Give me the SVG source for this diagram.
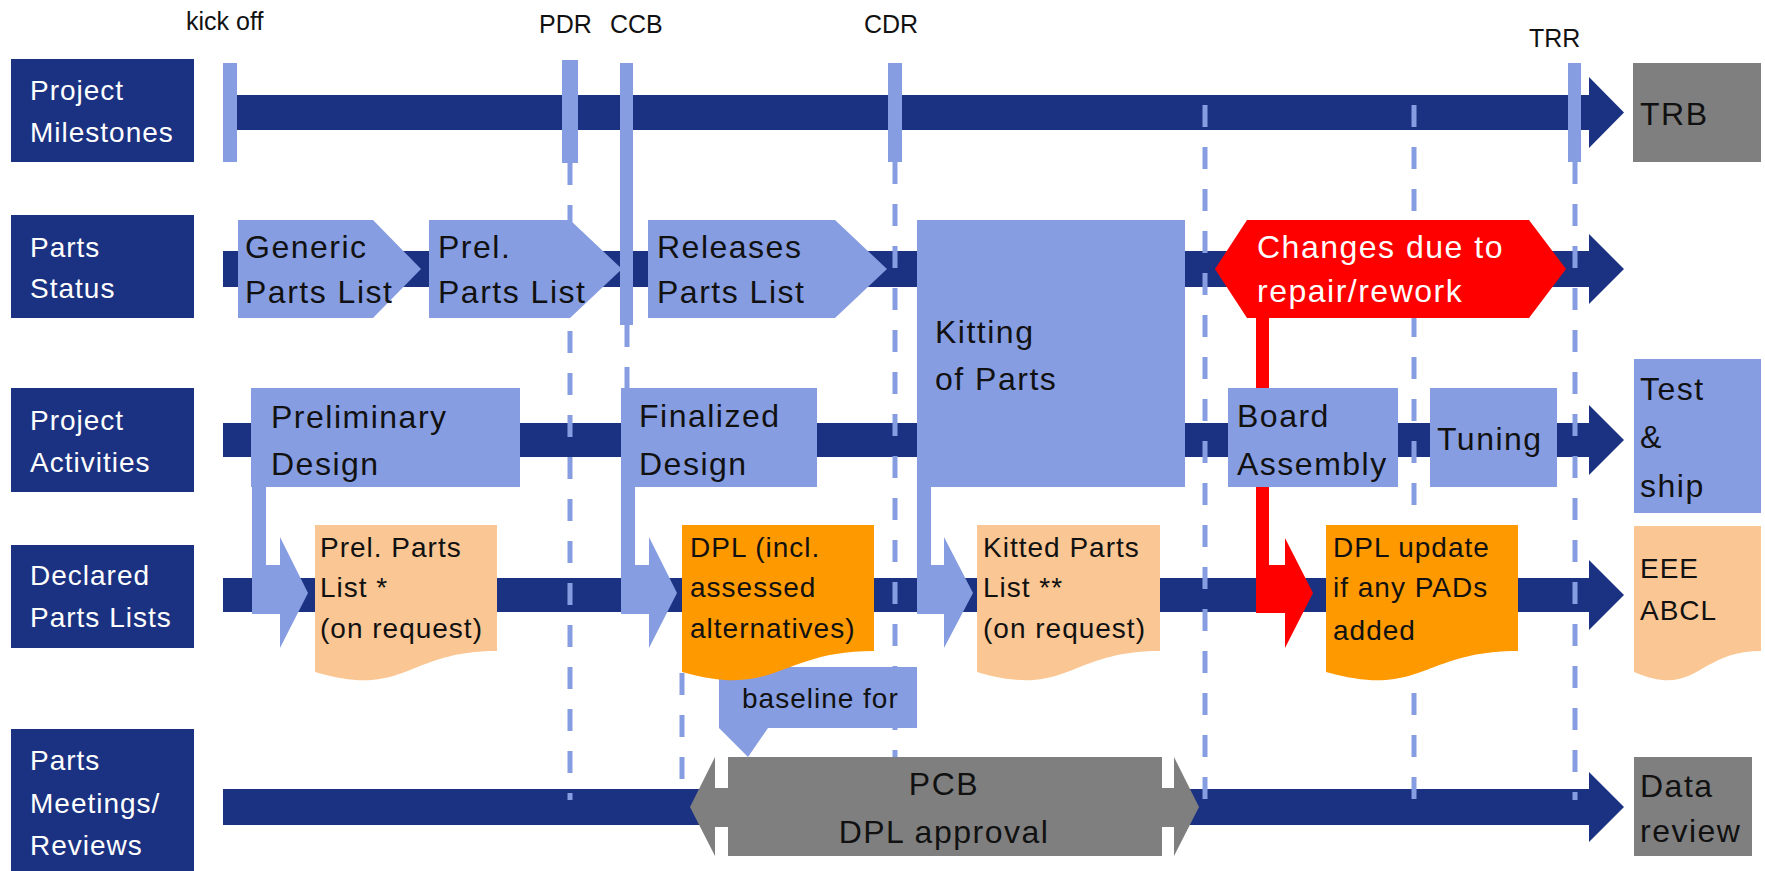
<svg xmlns="http://www.w3.org/2000/svg" width="1765" height="871" viewBox="0 0 1765 871">
<defs>
<style>
.lbl{fill:#1b3282}
.lt{font-family:"Liberation Sans",Arial,sans-serif;font-size:28px;fill:#ffffff;letter-spacing:1px}
.ms{font-family:"Liberation Sans",Arial,sans-serif;font-size:25px;fill:#111111}
.bar{fill:#1b3282}
.lb{fill:#879de1}
.t{font-family:"Liberation Sans",Arial,sans-serif;font-size:32px;fill:#111111;letter-spacing:1.5px}
.td{font-family:"Liberation Sans",Arial,sans-serif;font-size:28px;fill:#111111;letter-spacing:1px}
.tw{font-family:"Liberation Sans",Arial,sans-serif;font-size:32px;fill:#ffffff;letter-spacing:1.5px}
.dash{stroke:#879de1;stroke-width:5;stroke-dasharray:22 20;fill:none}
.gray{fill:#7f7f7f}
.peach{fill:#fac794}
.orange{fill:#ff9900}
.red{fill:#ff0000}
</style>
</defs>
<rect width="1765" height="871" fill="#ffffff"/>

<!-- row labels -->
<g id="label-milestones"><rect class="lbl" x="11" y="59" width="183" height="103"/><text class="lt" x="30" y="100">Project</text><text class="lt" x="30" y="142">Milestones</text></g>
<g id="label-status"><rect class="lbl" x="11" y="215" width="183" height="103"/><text class="lt" x="30" y="257">Parts</text><text class="lt" x="30" y="298">Status</text></g>
<g id="label-activities"><rect class="lbl" x="11" y="388" width="183" height="104"/><text class="lt" x="30" y="430">Project</text><text class="lt" x="30" y="472">Activities</text></g>
<g id="label-declared"><rect class="lbl" x="11" y="545" width="183" height="103"/><text class="lt" x="30" y="585">Declared</text><text class="lt" x="30" y="627">Parts Lists</text></g>
<g id="label-meetings"><rect class="lbl" x="11" y="729" width="183" height="142"/><text class="lt" x="30" y="770">Parts</text><text class="lt" x="30" y="813">Meetings/</text><text class="lt" x="30" y="855">Reviews</text></g>

<!-- milestone labels -->
<g id="milestone-labels">
<text class="ms" x="186" y="30">kick off</text>
<text class="ms" x="539" y="33">PDR</text>
<text class="ms" x="610" y="33">CCB</text>
<text class="ms" x="864" y="33">CDR</text>
<text class="ms" x="1529" y="47">TRR</text>
</g>

<g id="connectors">
<!-- timeline bars -->
<path class="bar" d="M223,95 H1589 V77 L1624,112.5 L1589,148 V130 H223 Z"/>
<path class="bar" d="M223,251 H1589 V234 L1624,269 L1589,304 V287 H223 Z"/>
<path class="bar" d="M223,423 H1589 V405 L1624,440 L1589,475 V457 H223 Z"/>
<path class="bar" d="M223,578 H1589 V560 L1624,595 L1589,630 V612 H223 Z"/>
<path class="bar" d="M223,789 H1589 V772 L1624,807 L1589,842 V825 H223 Z"/>
<!-- dashed milestone lines -->
<line class="dash" x1="570" y1="163" x2="570" y2="800"/>
<line class="dash" x1="627" y1="325" x2="627" y2="388"/>
<line class="dash" x1="895" y1="162" x2="895" y2="757"/>
<line class="dash" x1="682" y1="673" x2="682" y2="780"/>
<line class="dash" x1="1205" y1="105" x2="1205" y2="800"/>
<line class="dash" x1="1414" y1="105" x2="1414" y2="800"/>
<line class="dash" x1="1575" y1="162" x2="1575" y2="800"/>
<!-- bent arrows -->
<path class="lb" d="M252,487 H266 V565 H280 V537 L308,593 L280,648 V614 H252 Z"/>
<path class="lb" d="M621,487 H635 V565 H649 V537 L677,593 L649,648 V614 H621 Z"/>
<path class="lb" d="M917,487 H931 V565 H944 V537 L973,593 L944,648 V614 H917 Z"/>
<path class="red" d="M1256,318 H1269 V565 H1285 V538 L1313,593 L1285,648 V613 H1256 Z"/>
</g>

<!-- milestone markers -->
<g id="markers">
<rect class="lb" x="223" y="63" width="14" height="99"/>
<rect class="lb" x="562" y="60" width="16" height="103"/>
<rect class="lb" x="620" y="63" width="13" height="262"/>
<rect class="lb" x="888" y="63" width="14" height="99"/>
<rect class="lb" x="1568" y="63" width="13" height="99"/>
</g>

<g id="trb"><rect class="gray" x="1633" y="63" width="128" height="99"/><text class="t" x="1640" y="125">TRB</text></g>

<!-- parts status -->
<g id="generic"><polygon class="lb" points="238,220 373,220 421,269 373,318 238,318"/><text class="t" x="245" y="258">Generic</text><text class="t" x="245" y="303">Parts List</text></g>
<g id="prel"><polygon class="lb" points="429,220 570,220 622,269 570,318 429,318"/><text class="t" x="438" y="258">Prel.</text><text class="t" x="438" y="303">Parts List</text></g>
<g id="releases"><polygon class="lb" points="648,220 835,220 887,269 835,318 648,318"/><text class="t" x="657" y="258">Releases</text><text class="t" x="657" y="303">Parts List</text></g>
<g id="kitting"><rect class="lb" x="917" y="220" width="268" height="267"/><text class="t" x="935" y="343">Kitting</text><text class="t" x="935" y="390">of Parts</text></g>
<g id="changes"><polygon class="red" points="1215,269 1247,220 1529,220 1566,269 1529,318 1247,318"/><text class="tw" x="1257" y="258">Changes due to</text><text class="tw" x="1257" y="302">repair/rework</text></g>

<!-- activities -->
<g id="prelim-design"><rect class="lb" x="251" y="388" width="269" height="99"/><text class="t" x="271" y="428">Preliminary</text><text class="t" x="271" y="475">Design</text></g>
<g id="final-design"><rect class="lb" x="621" y="388" width="196" height="99"/><text class="t" x="639" y="427">Finalized</text><text class="t" x="639" y="475">Design</text></g>
<g id="board"><rect class="lb" x="1228" y="388" width="170" height="99"/><text class="t" x="1237" y="427">Board</text><text class="t" x="1237" y="475">Assembly</text></g>
<g id="tuning"><rect class="lb" x="1430" y="388" width="127" height="99"/><text class="t" x="1437" y="450">Tuning</text></g>
<g id="test"><rect class="lb" x="1634" y="359" width="127" height="154"/><text class="t" x="1640" y="400">Test</text><text class="t" x="1640" y="448">&amp;</text><text class="t" x="1640" y="497">ship</text></g>

<!-- callout -->
<g id="baseline"><path class="lb" d="M719,667 H917 V728 H768 L748,757 L719,728 Z"/><text class="td" x="742" y="708">baseline for</text></g>

<!-- declared parts lists -->
<g id="doc-prel"><path class="peach" d="M315,525 H497 V651 C406,651 406,699 315,672 Z"/><text class="td" x="320" y="557">Prel. Parts</text><text class="td" x="320" y="597">List *</text><text class="td" x="320" y="638">(on request)</text></g>
<g id="doc-dpl"><path class="orange" d="M682,525 H874 V651 C778,651 778,699 682,672 Z"/><text class="td" x="690" y="557">DPL (incl.</text><text class="td" x="690" y="597">assessed</text><text class="td" x="690" y="638">alternatives)</text></g>
<g id="doc-kitted"><path class="peach" d="M977,525 H1160 V651 C1068,651 1068,699 977,672 Z"/><text class="td" x="983" y="557">Kitted Parts</text><text class="td" x="983" y="597">List **</text><text class="td" x="983" y="638">(on request)</text></g>
<g id="doc-update"><path class="orange" d="M1326,525 H1518 V651 C1422,651 1422,699 1326,672 Z"/><text class="td" x="1333" y="557">DPL update</text><text class="td" x="1333" y="597">if any PADs</text><text class="td" x="1333" y="640">added</text></g>
<g id="doc-eee"><path class="peach" d="M1634,526 H1761 V651 C1697,651 1697,699 1634,672 Z"/><text class="td" x="1640" y="578">EEE</text><text class="td" x="1640" y="620">ABCL</text></g>

<!-- meetings -->
<g id="pcb"><path class="gray" d="M690,807 L715,757 V788 H728 V757 H1162 V788 H1174 V757 L1199,807 L1174,856 V827 H1162 V856 H728 V827 H715 V856 Z"/><text class="t" x="944" y="795" text-anchor="middle">PCB</text><text class="t" x="944" y="843" text-anchor="middle">DPL approval</text></g>
<g id="data-review"><rect class="gray" x="1634" y="757" width="118" height="99"/><text class="t" x="1640" y="797">Data</text><text class="t" x="1640" y="842">review</text></g>
</svg>
